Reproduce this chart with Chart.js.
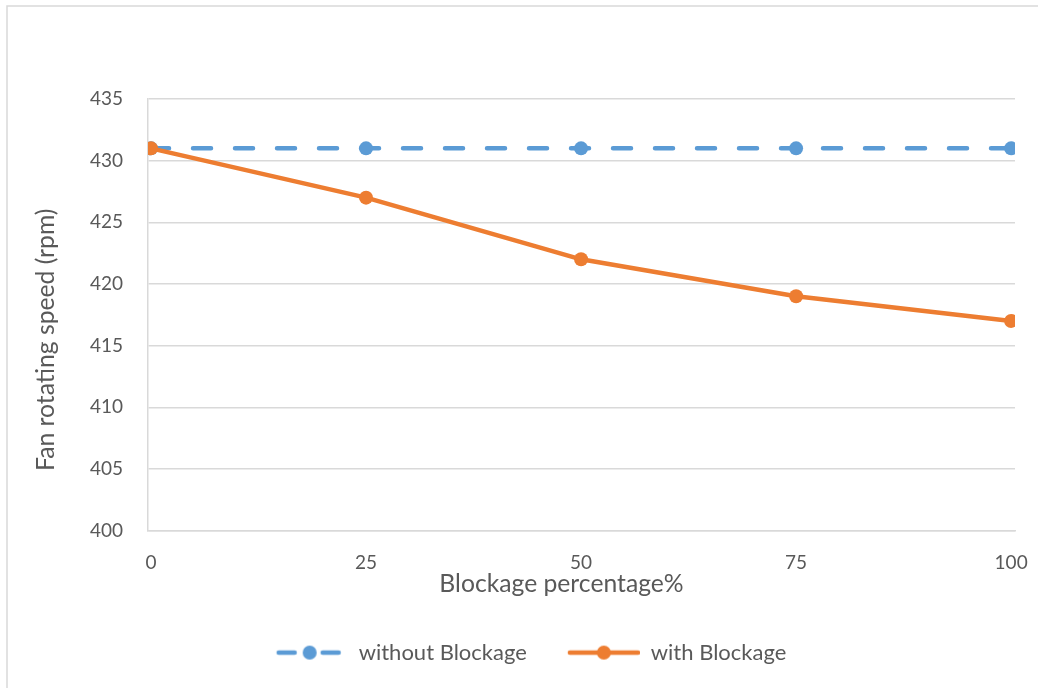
<!DOCTYPE html>
<html>
<head>
<meta charset="utf-8">
<script src="https://cdn.jsdelivr.net/npm/chart.js@4"></script>
<style>
  html, body { margin: 0; padding: 0; background: #fff; }
  #wrap { width: 1038px; height: 688px; position: relative; }
</style>
</head>
<body>
<div id="wrap"><canvas id="chart" width="1038" height="688"></canvas></div>
<script>
// Blockage percentage (x) and fan speed readings (rpm)
const blockage = [0, 25, 50, 75, 100];
const withoutBlockage = [431, 431, 431, 431, 431];
const withBlockage = [431, 427, 422, 419, 417];
const xTicks = [0, 25, 50, 75, 100];
const yTicks = [400, 405, 410, 415, 420, 425, 430, 435];
const xTitle = 'Blockage percentage%';
const yTitle = 'Fan rotating speed (rpm)';

const BLUE = '#5B9BD5';
const ORANGE = '#ED7D31';
const TEXT = '#595959';
const GRID = '#D9D9D9';
const FONT = 'Lato, "Liberation Sans", sans-serif';

function toPoints(xs, ys) {
  return xs.map((x, i) => ({ x: x, y: ys[i] }));
}

// Legend swatches: line with a marker on it
function swatch(color, dashed, x0, x1, cx) {
  const c = document.createElement('canvas');
  c.width = 76; c.height = 16;
  const g = c.getContext('2d');
  g.strokeStyle = color;
  g.lineWidth = 4.5;
  g.lineCap = 'round';
  g.beginPath();
  if (dashed) {
    g.moveTo(x0, 8); g.lineTo(x0 + 16, 8);
    g.moveTo(x1 - 16, 8); g.lineTo(x1, 8);
  } else {
    g.moveTo(x0, 8); g.lineTo(x1, 8);
  }
  g.stroke();
  g.fillStyle = color;
  g.beginPath();
  g.arc(cx, 8, 7, 0, Math.PI * 2);
  g.fill();
  return c;
}
const blueSwatch = swatch(BLUE, true, 7, 67, 38);
const orangeSwatch = swatch(ORANGE, false, 6, 74, 40);

// Chart frame and axis titles
const framePlugin = {
  id: 'frame',
  beforeDraw(chart) {
    const ctx = chart.ctx;
    ctx.save();
    ctx.fillStyle = '#fff';
    ctx.fillRect(0, 0, chart.width, chart.height);
    ctx.strokeStyle = GRID;
    ctx.lineWidth = 1.5;
    ctx.strokeRect(7, 6, 1200, 1000);
    ctx.restore();
  },
  afterDraw(chart) {
    const { ctx, chartArea } = chart;
    const midX = (chartArea.left + chartArea.right) / 2;
    const midY = (chartArea.top + chartArea.bottom) / 2;
    ctx.save();
    ctx.fillStyle = TEXT;
    ctx.font = '24.7px ' + FONT;
    ctx.textAlign = 'center';
    ctx.textBaseline = 'middle';
    ctx.fillText(xTitle, midX - 20, chartArea.bottom + 53);
    ctx.translate(46, midY + 25);
    ctx.rotate(-Math.PI / 2);
    ctx.fillText(yTitle, 0, 0);
    ctx.restore();
  }
};

new Chart(document.getElementById('chart'), {
  type: 'scatter',
  data: {
    datasets: [
      {
        label: 'without Blockage',
        data: toPoints(blockage, withoutBlockage),
        showLine: true,
        borderColor: BLUE,
        backgroundColor: BLUE,
        borderWidth: 4.5,
        borderDash: [18, 24],
        borderCapStyle: 'round',
        pointRadius: 7,
        pointHoverRadius: 7,
        pointBorderWidth: 0,
        tension: 0,
        order: 1
      },
      {
        label: 'with Blockage',
        data: toPoints(blockage, withBlockage),
        showLine: true,
        borderColor: ORANGE,
        backgroundColor: ORANGE,
        borderWidth: 4.5,
        borderCapStyle: 'round',
        borderJoinStyle: 'round',
        pointRadius: 7,
        pointHoverRadius: 7,
        pointBorderWidth: 0,
        tension: 0,
        order: 0
      }
    ]
  },
  options: {
    responsive: false,
    animation: false,
    layout: { padding: { left: 43, top: 99, right: 23, bottom: 14.4 } },
    scales: {
      x: {
        type: 'linear',
        min: -0.35,
        max: 100.45,
        afterBuildTicks(scale) { scale.ticks = xTicks.map(v => ({ value: v })); },
        afterFit(scale) { scale.height = 74; },
        grid: { display: false, drawTicks: true, tickLength: 18 },
        border: { display: true, color: GRID, width: 1.5 },
        ticks: {
          padding: 3,
          color: TEXT,
          font: { family: FONT, size: 19 },
          maxRotation: 0,
          autoSkip: false
        }
      },
      y: {
        min: 400,
        max: 435,
        afterBuildTicks(scale) { scale.ticks = yTicks.map(v => ({ value: v })); },
        afterFit(scale) { scale.width = 105; },
        grid: { color: GRID, lineWidth: 1.5, drawTicks: false },
        border: { display: true, color: GRID, width: 1.5 },
        ticks: {
          padding: 25,
          color: TEXT,
          font: { family: FONT, size: 19 }
        }
      }
    },
    plugins: {
      tooltip: { enabled: false },
      legend: {
        position: 'bottom',
        labels: {
          usePointStyle: true,
          pointStyleWidth: 76,
          padding: 37,
          color: TEXT,
          font: { family: FONT, size: 22 },
          generateLabels(chart) {
            return chart.data.datasets.map((ds, i) => ({
              text: ds.label,
              fontColor: TEXT,
              pointStyle: i === 0 ? blueSwatch : orangeSwatch,
              datasetIndex: i,
              hidden: false,
              lineWidth: 0,
              strokeStyle: 'transparent',
              fillStyle: ds.borderColor
            }));
          }
        }
      }
    }
  },
  plugins: [framePlugin]
});
</script>
</body>
</html>
